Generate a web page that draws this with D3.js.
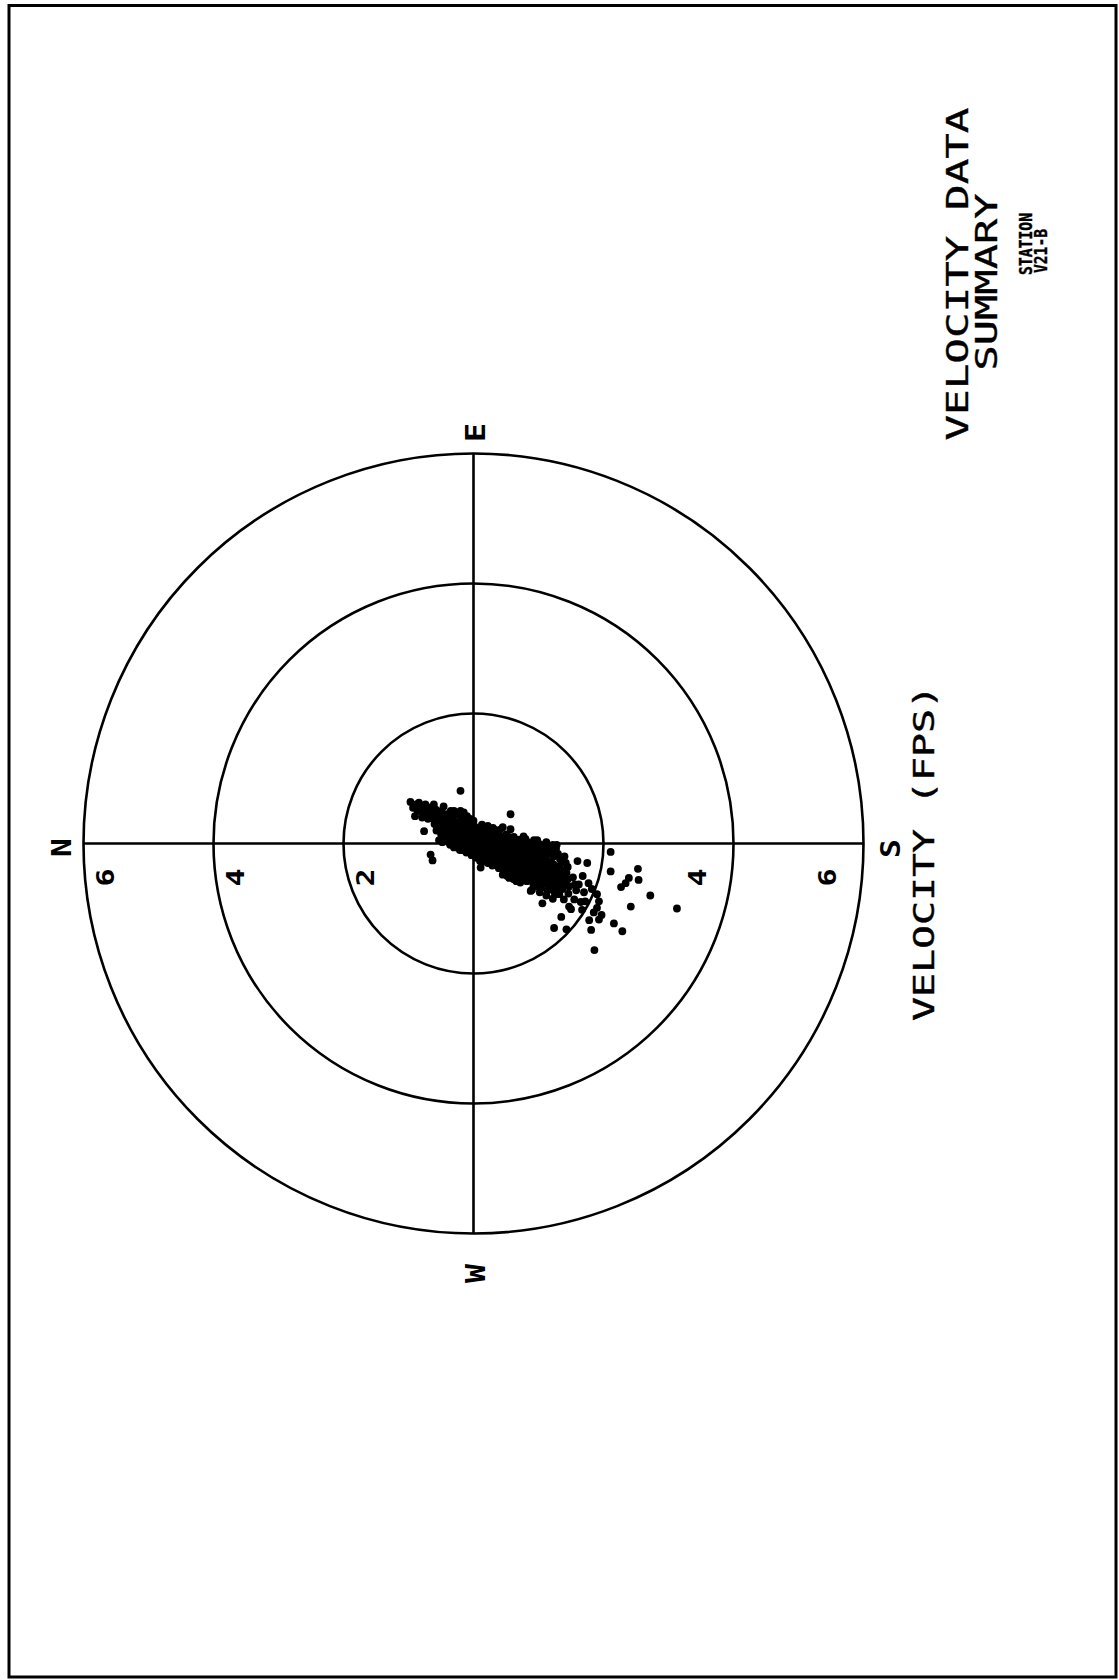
<!DOCTYPE html>
<html>
<head>
<meta charset="utf-8">
<script src="https://cdn.jsdelivr.net/npm/d3@7"></script>
<style>
  html, body { margin: 0; padding: 0; background: #fff; }
  svg { display: block; }
</style>
</head>
<body>
<svg id="chart" width="1119" height="1680"></svg>
<script>
// ---------- DATA ----------
const ringValues = [2, 4, 6];
const northTickLabels = ["6", "4", "2"];
const northTickValues = [6, 4, 2];
const southTickLabels = ["4", "6"];
const southTickValues = [4, 6];
const compassLabels = ["N", "E", "S", "W"];
const titleLines = ["VELOCITY DATA", "SUMMARY"];
const stationLines = ["STATION", "V21-B"];
const axisTitle = "VELOCITY (FPS)";

// velocity samples: [north component, east component] in ft/s
const velocityPoints = [
  [0.97,0.64],[0.93,0.55],[0.90,0.42],[0.88,0.60],
  [0.84,0.63],[0.86,0.50],[0.82,0.57],[0.80,0.50],[0.79,0.40],
  [0.76,0.19],[0.77,0.52],[0.74,0.60],[0.72,0.45],[0.70,0.38],[0.69,0.50],[0.68,0.42],[0.71,0.56],
  [0.66,-0.17],[0.63,-0.26],[0.67,0.55],[0.64,0.47],[0.62,0.38],[0.60,0.30],[0.61,0.60],[0.58,0.52],
  [0.59,0.45],[0.57,0.36],[0.56,0.27],[0.57,0.20],
  [0.55,0.43],[0.54,0.34],[0.52,0.25],[0.50,0.15],[0.53,0.05],[0.49,0.50],[0.46,0.57],
  [0.50,0.40],[0.48,0.30],[0.47,0.20],[0.47,0.10],[0.48,0.02],
  [0.45,0.38],[0.44,0.28],[0.43,0.18],[0.42,0.08],[0.40,0.45],[0.38,0.02],
  [0.39,0.38],[0.39,0.30],[0.38,0.20],[0.37,0.10],[0.36,-0.02],[0.35,0.50],
  [0.36,0.35],[0.34,0.24],[0.33,0.14],[0.31,0.04],[0.30,-0.06],[0.32,0.42],[0.30,0.50],
  [0.29,0.34],[0.29,0.25],[0.28,0.15],[0.27,0.05],[0.26,-0.05],[0.25,0.45],
  [0.27,0.30],[0.25,0.20],[0.24,0.10],[0.22,0.00],[0.21,-0.10],[0.19,0.38],[0.20,0.81],[0.20,0.50],
  [0.19,0.30],[0.19,0.20],[0.18,0.10],[0.18,0.00],[0.17,-0.10],[0.15,0.48],
  [0.17,0.40],[0.16,0.25],[0.15,0.15],[0.13,0.05],[0.12,-0.05],[0.11,-0.14],[0.14,0.33],[0.10,0.42],
  [0.10,0.26],[0.09,0.16],[0.09,0.06],[0.08,-0.04],[0.08,-0.12],[0.05,0.38],
  [0.08,0.22],[0.06,0.12],[0.05,0.02],[0.04,-0.08],[0.03,-0.18],[0.07,0.30],[0.00,0.35],
  [0.00,0.20],[0.00,0.10],[-0.01,0.00],[-0.01,-0.10],[-0.01,-0.18],
  [-0.02,0.26],[-0.03,0.16],[-0.04,0.06],[-0.05,-0.04],[-0.06,-0.14],[-0.04,-0.22],[-0.11,-0.37],[-0.13,0.29],
  [-0.09,0.22],[-0.09,0.12],[-0.10,0.02],[-0.10,-0.08],[-0.11,-0.18],[-0.10,-0.27],
  [-0.13,0.20],[-0.15,0.10],[-0.16,0.00],[-0.17,-0.10],[-0.18,-0.20],[-0.14,-0.28],[-0.22,0.27],
  [-0.20,0.18],[-0.20,0.08],[-0.21,-0.02],[-0.22,-0.12],[-0.23,-0.22],[-0.22,-0.30],
  [-0.23,0.16],[-0.25,0.06],[-0.26,-0.04],[-0.27,-0.14],[-0.28,-0.24],[-0.29,-0.34],[-0.30,0.24],
  [-0.31,0.16],[-0.31,0.06],[-0.32,-0.04],[-0.32,-0.14],[-0.33,-0.24],[-0.34,-0.33],[-0.31,0.22],
  [-0.34,0.12],[-0.35,0.02],[-0.36,-0.08],[-0.37,-0.18],[-0.38,-0.28],[-0.39,-0.38],[-0.40,0.21],
  [-0.40,0.12],[-0.41,0.04],[-0.41,-0.06],[-0.42,-0.16],[-0.43,-0.26],[-0.44,-0.36],[-0.45,0.25],
  [-0.44,0.10],[-0.45,0.00],[-0.46,-0.10],[-0.47,-0.20],[-0.48,-0.30],[-0.49,-0.40],[-0.45,-0.48],
  [-0.50,0.14],[-0.55,0.10],[-0.57,0.22],
  [-0.50,0.06],[-0.51,-0.02],[-0.51,-0.12],[-0.52,-0.22],[-0.53,-0.32],[-0.54,-0.42],[-0.52,-0.50],
  [-0.53,0.05],[-0.55,-0.05],[-0.56,-0.15],[-0.57,-0.25],[-0.58,-0.35],[-0.59,-0.45],[-0.57,0.45],[-0.55,-0.53],
  [-0.62,0.10],[-0.65,0.06],
  [-0.60,0.02],[-0.60,-0.08],[-0.61,-0.18],[-0.62,-0.28],[-0.63,-0.38],[-0.64,-0.48],[-0.62,-0.55],
  [-0.63,0.00],[-0.65,-0.10],[-0.66,-0.20],[-0.67,-0.30],[-0.68,-0.40],[-0.69,-0.50],[-0.66,-0.58],
  [-0.70,0.06],[-0.72,0.02],
  [-0.70,-0.04],[-0.71,-0.12],[-0.71,-0.22],[-0.72,-0.32],[-0.73,-0.42],[-0.74,-0.52],[-0.72,-0.60],
  [-0.73,-0.04],[-0.75,-0.14],[-0.76,-0.24],[-0.77,-0.34],[-0.78,-0.44],[-0.79,-0.54],[-0.77,0.11],[-0.80,0.07],
  [-0.82,0.03],[-0.85,0.00],[-0.88,-0.04],
  [-0.80,-0.06],[-0.81,-0.16],[-0.81,-0.26],[-0.82,-0.36],[-0.83,-0.46],[-0.82,-0.58],
  [-0.83,-0.08],[-0.85,-0.18],[-0.86,-0.28],[-0.87,-0.38],[-0.85,-0.55],[-0.90,-0.71],[-0.95,-0.63],[-0.88,-0.47],
  [-0.88,-0.73],[-0.93,-0.65],[-0.92,0.02],[-0.95,-0.06],[-0.93,0.05],
  [-0.90,-0.12],[-0.90,-0.22],[-0.91,-0.32],[-0.92,-0.42],[-0.93,-0.52],[-0.92,-0.62],
  [-0.93,-0.14],[-0.95,-0.24],[-0.96,-0.34],[-0.97,-0.44],[-0.99,-0.54],[-1.00,-0.66],
  [-1.00,0.00],[-1.02,-0.08],[-1.05,-0.12],[-0.98,0.05],
  [-1.00,-0.18],[-1.00,-0.28],[-1.01,-0.38],[-1.02,-0.48],[-1.03,-0.58],[-1.04,-0.68],
  [-1.03,-0.20],[-1.05,-0.30],[-1.06,-0.40],[-1.07,-0.50],[-1.06,-0.92],[-1.09,-0.60],[-1.02,-0.75],
  [-1.08,-0.02],[-1.10,-0.10],[-1.13,-0.16],[-1.12,0.02],
  [-1.10,-0.24],[-1.10,-0.32],[-1.11,-0.42],[-1.12,-0.52],[-1.13,-0.62],[-1.14,-0.72],
  [-1.13,-0.26],[-1.15,-0.36],[-1.16,-0.46],[-1.17,-0.56],[-1.18,-0.68],[-1.12,-0.80],[-1.13,-0.60],
  [-1.18,-0.06],[-1.20,-0.14],[-1.23,-0.20],[-1.22,-0.02],
  [-1.20,-0.30],[-1.20,-0.38],[-1.21,-0.48],[-1.22,-0.58],[-1.21,-0.68],
  [-1.23,-0.32],[-1.25,-0.42],[-1.26,-0.52],[-1.27,-0.62],[-1.24,-0.74],[-1.22,-0.85],
  [-1.28,-0.68],[-1.26,-0.78],
  [-1.27,-0.08],[-1.30,-0.16],[-1.33,-0.24],[-1.35,-0.30],[-1.28,-0.02],
  [-1.30,-0.36],[-1.30,-0.44],[-1.31,-0.54],[-1.31,-0.64],
  [-1.33,-0.38],[-1.35,-0.48],[-1.36,-0.58],[-1.37,-0.70],[-1.39,-0.86],[-1.35,-1.13],[-1.32,-0.78],
  [-1.40,-0.20],[-1.42,-0.30],[-1.45,-0.36],
  [-1.40,-0.42],[-1.41,-0.52],[-1.41,-0.62],
  [-1.43,-0.45],[-1.45,-0.55],[-1.47,-0.66],[-1.47,-0.97],[-1.50,-1.01],[-1.43,-1.32],[-1.46,-0.77],
  [-1.53,-0.52],[-1.56,-0.63],[-1.60,-0.27],[-1.62,-0.63],[-1.58,-0.72],[-1.55,-0.86],
  [-1.65,-0.90],[-1.67,-1.02],[-1.72,-0.89],[-1.75,-0.30],[-1.77,-0.61],[-1.70,-0.75],[-1.68,-0.50],
  [-1.24,-1.30],[-1.81,-1.33],[-1.86,-1.64],[-1.93,-1.17],[-2.16,-1.23],[-2.29,-1.35],
  [-1.90,-0.78],[-1.93,-0.89],[-1.90,-0.99],[-1.85,-1.06],[-2.11,-0.13],[-2.11,-0.43],
  [-2.53,-0.39],[-2.54,-0.56],[-2.39,-0.53],[-2.34,-0.61],[-2.27,-0.67],[-2.72,-0.80],
  [-2.42,-0.97],[-3.13,-1.00],[-1.82,-0.70],[-1.97,-1.10],[-1.78,-1.18]
];

// ---------- LAYOUT ----------
const cx = 473.5, cy = 843.5, R = 390;
const svg = d3.select("#chart");
const ink = "#000";

// frame
svg.append("rect")
  .attr("x", 9).attr("y", 5.5).attr("width", 1107).attr("height", 1671.5)
  .attr("fill", "none").attr("stroke", ink).attr("stroke-width", 3);

// scales: north points to the left, east points up (page is rotated)
const rScale = d3.scaleLinear().domain([0, 6]).range([0, R]);
const xN = d3.scaleLinear().domain([-6, 6]).range([cx + R, cx - R]);
const yE = d3.scaleLinear().domain([-6, 6]).range([cy + R, cy - R]);

const g = svg.append("g");

// rings
g.selectAll("circle.ring").data(ringValues).join("circle")
  .attr("class", "ring")
  .attr("cx", cx).attr("cy", cy).attr("r", d => rScale(d))
  .attr("fill", "none").attr("stroke", ink).attr("stroke-width", 2.6);

// axes
g.append("line").attr("x1", xN(6)).attr("x2", xN(-6)).attr("y1", cy).attr("y2", cy)
  .attr("stroke", ink).attr("stroke-width", 2.6);
g.append("line").attr("x1", cx).attr("x2", cx).attr("y1", yE(6)).attr("y2", yE(-6))
  .attr("stroke", ink).attr("stroke-width", 2.6);

// points
g.selectAll("circle.pt").data(velocityPoints).join("circle")
  .attr("class", "pt")
  .attr("cx", d => xN(d[0])).attr("cy", d => yE(d[1])).attr("r", 3.9)
  .attr("fill", ink);

function rotText(x, y, txt, opts) {
  const t = svg.append("text")
    .attr("transform", `translate(${x},${y}) rotate(-90)`)
    .attr("text-anchor", "middle")
    .attr("font-family", "'DejaVu Sans Mono', monospace")
    .attr("font-size", opts.size)
    .attr("font-weight", opts.weight || "normal")
    .attr("fill", ink)
    .text(txt);
  if (opts.central) t.attr("dominant-baseline", "central");
  if (opts.len) t.attr("textLength", opts.len).attr("lengthAdjust", "spacingAndGlyphs");
  if (opts.thick) t.attr("stroke", ink).attr("stroke-width", opts.thick);
  return t;
}

// tick labels
northTickValues.forEach((v, i) => {
  rotText(xN(v) + 22, cy + 34, northTickLabels[i], {size: 25, weight: "bold", central: true, len: 18});
});
southTickValues.forEach((v, i) => {
  rotText(xN(-v) - 36, cy + 34, southTickLabels[i], {size: 25, weight: "bold", central: true, len: 18});
});

// compass labels
const compassPos = {
  N: [xN(6) - 22, cy + 4],
  E: [cx + 2, yE(6) - 21],
  S: [xN(-6) + 27, cy + 5],
  W: [cx + 2, yE(-6) + 40]
};
compassLabels.forEach(c => {
  rotText(compassPos[c][0], compassPos[c][1], c, {size: 27, weight: "bold", central: true, len: 19});
});

// axis title
rotText(934, 853, axisTitle, {size: 29, len: 336, thick: 0.4});

// titles
rotText(968, 274, titleLines[0], {size: 31, len: 333, thick: 0.35});
rotText(997, 282, titleLines[1], {size: 31, len: 177, thick: 0.35});
rotText(1032, 244, stationLines[0], {size: 17, weight: "bold", len: 62, thick: 0.4});
rotText(1047, 251, stationLines[1], {size: 17, weight: "bold", len: 44, thick: 0.4});
</script>
</body>
</html>
